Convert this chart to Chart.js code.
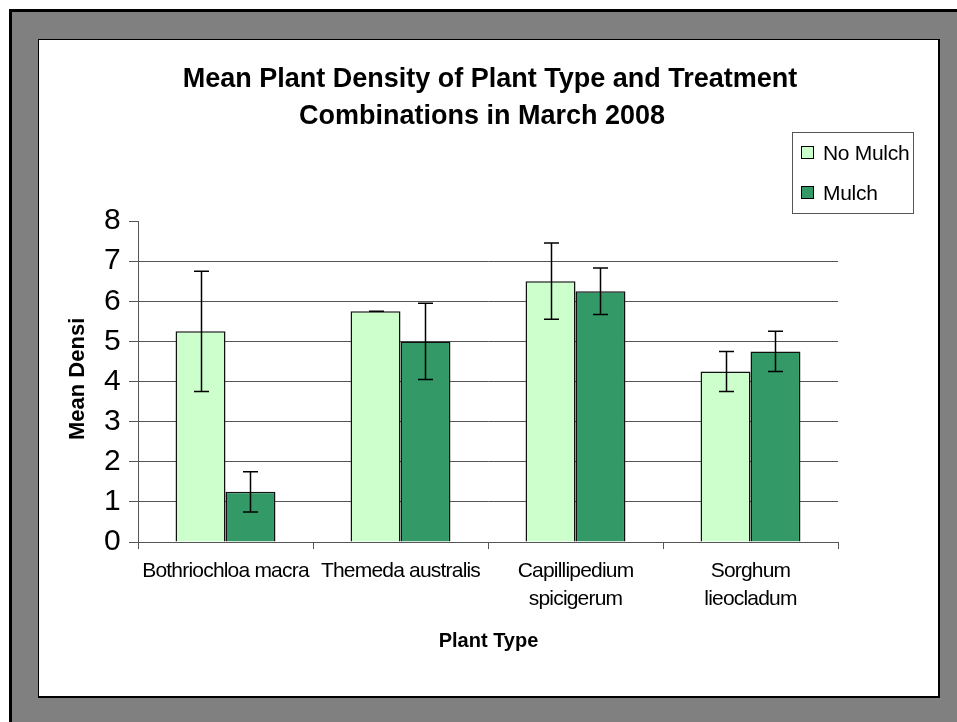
<!DOCTYPE html>
<html><head><meta charset="utf-8">
<script src="https://cdn.jsdelivr.net/npm/chart.js@4.4.1/dist/chart.umd.min.js"></script>
<style>html,body{margin:0;padding:0;background:#fff;}#wrap{width:957px;height:722px;}</style>
</head><body><div id="wrap"><canvas id="c" width="957" height="722"></canvas></div>
<script>
const categories = [["Bothriochloa macra"], ["Themeda australis"], ["Capillipedium", "spicigerum"], ["Sorghum", "lieocladum"]];
const seriesNames = ["No Mulch", "Mulch"];
const noMulch = [5.25, 5.75, 6.5, 4.25];
const mulch = [1.25, 5.0, 6.25, 4.75];
const noMulchErr = [1.5, 0, 0.95, 0.5];
const mulchErr = [0.5, 0.95, 0.58, 0.5];
const yMin = 0, yMax = 8, yStep = 1;
const titleLines = ["Mean Plant Density of Plant Type and Treatment", "Combinations in March 2008"];
const xTitle = "Plant Type";
const yTitle = "Mean Density";

const FONT = "'Liberation Sans', Arial, sans-serif";
const colors = ["#CCFFCC", "#339966"];
const errors = [noMulchErr, mulchErr];

const framePlugin = {
  id: 'frame',
  beforeDraw(chart) {
    const ctx = chart.ctx;
    ctx.save();
    ctx.fillStyle = '#fff'; ctx.fillRect(0, 0, 957, 722);
    ctx.fillStyle = '#000'; ctx.fillRect(9, 9, 948, 713);
    ctx.fillStyle = '#808080'; ctx.fillRect(12, 12, 945, 710);
    ctx.fillStyle = '#000'; ctx.fillRect(38, 39, 902, 659);
    ctx.fillStyle = '#fff'; ctx.fillRect(39, 40, 899, 656);
    ctx.restore();
    ctx.letterSpacing = '-0.8px';
  },
  beforeDatasetsDraw(chart) {
    chart.ctx.letterSpacing = '0px';
  }
};

const errorPlugin = {
  id: 'errbars',
  afterDatasetsDraw(chart) {
    const ctx = chart.ctx, ys = chart.scales.y;
    ctx.save();
    ctx.strokeStyle = '#000'; ctx.lineWidth = 1.5;
    chart.data.datasets.forEach((ds, i) => {
      const meta = chart.getDatasetMeta(i);
      meta.data.forEach((bar, j) => {
        const v = ds.data[j], e = errors[i][j];
        const x = Math.round(bar.x) + 0.5;
        const yh = ys.getPixelForValue(v + e), yl = ys.getPixelForValue(v - e);
        ctx.beginPath();
        ctx.moveTo(x, yh); ctx.lineTo(x, yl);
        ctx.moveTo(x - 7.5, yh); ctx.lineTo(x + 7.5, yh);
        ctx.moveTo(x - 7.5, yl); ctx.lineTo(x + 7.5, yl);
        ctx.stroke();
      });
    });
    ctx.restore();
  }
};

const textPlugin = {
  id: 'texts',
  afterDraw(chart) {
    const ctx = chart.ctx;
    ctx.save();
    ctx.letterSpacing = '0px';
    ctx.fillStyle = '#000';
    // title
    ctx.font = 'bold 27px ' + FONT;
    ctx.textAlign = 'center'; ctx.textBaseline = 'alphabetic';
    ctx.fillText(titleLines[0], 490, 87);
    ctx.fillText(titleLines[1], 482, 124);
    // x title
    ctx.font = 'bold 20px ' + FONT;
    ctx.fillText(xTitle, 488.5, 647);
    // y title clipped
    ctx.save();
    ctx.beginPath(); ctx.rect(0, 318, 957, 404); ctx.clip();
    ctx.translate(84, 440); ctx.rotate(-Math.PI / 2);
    ctx.font = 'bold 22px ' + FONT;
    ctx.textAlign = 'left';
    ctx.fillText(yTitle, 0, 0);
    ctx.restore();
    // legend
    ctx.strokeStyle = '#555'; ctx.lineWidth = 1;
    ctx.strokeRect(792.5, 132.5, 121, 81);
    ctx.font = '21px ' + FONT;
    ctx.letterSpacing = '-0.3px';
    ctx.textAlign = 'left';
    const ys = [146, 186], tb = [160, 200];
    seriesNames.forEach((n, i) => {
      ctx.fillStyle = colors[i];
      ctx.fillRect(801, ys[i], 13, 13);
      ctx.strokeStyle = '#000';
      ctx.strokeRect(801.5, ys[i] + 0.5, 12, 12);
      ctx.fillStyle = '#000';
      ctx.fillText(n, 823, tb[i]);
    });
    ctx.restore();
  }
};

new Chart(document.getElementById('c'), {
  type: 'bar',
  data: {
    labels: categories,
    datasets: [
      { label: seriesNames[0], data: noMulch, backgroundColor: colors[0], borderColor: '#111', borderWidth: 1.5, categoryPercentage: 0.571, barPercentage: 1.0 },
      { label: seriesNames[1], data: mulch, backgroundColor: colors[1], borderColor: '#111', borderWidth: 1.5, categoryPercentage: 0.571, barPercentage: 1.0 }
    ]
  },
  options: {
    responsive: false, animation: false, devicePixelRatio: 1,
    layout: { padding: { left: 78, top: 221, right: 119, bottom: 80 } },
    plugins: { legend: { display: false }, title: { display: false }, tooltip: { enabled: false } },
    scales: {
      x: {
        grid: { drawOnChartArea: false, drawTicks: true, tickLength: 7, color: '#555', offset: true },
        border: { color: '#555', width: 1 },
        ticks: { font: { family: FONT, size: 21, lineHeight: 1.33 }, color: '#000', padding: 8, maxRotation: 0, autoSkip: false },
        afterFit: s => { s.height = 100; }
      },
      y: {
        min: yMin, max: yMax,
        grid: { color: c => (c.tick && c.tick.value === yMax) ? 'rgba(0,0,0,0)' : '#555', tickColor: '#555', tickLength: 9 },
        border: { color: '#555', width: 1 },
        ticks: { stepSize: yStep, font: { family: FONT, size: 30 }, color: '#000', padding: 9 },
        afterFit: s => { s.width = 60; }
      }
    }
  },
  plugins: [framePlugin, errorPlugin, textPlugin]
});
</script></body></html>
